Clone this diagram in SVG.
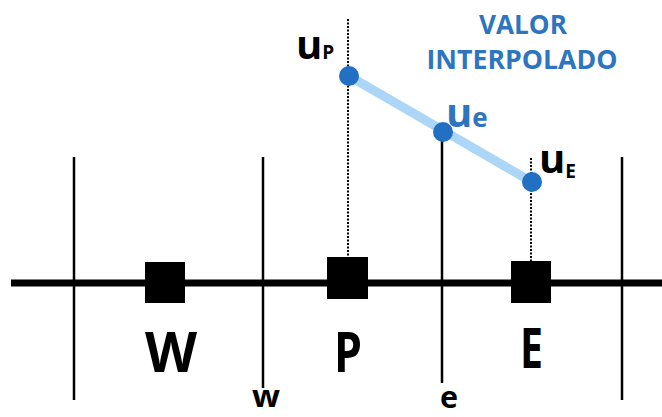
<svg xmlns="http://www.w3.org/2000/svg" width="662" height="417" viewBox="0 0 662 417">
<style>
.big{font-family:"Open Sans","Liberation Sans",sans-serif;font-weight:700;fill:#000}
.lbl{font-family:"Open Sans","Liberation Sans",sans-serif;font-weight:700}
.blue{fill:#2e75c0}
.face{stroke:#000;stroke-width:2.5;fill:none}
.dot{stroke:#000;stroke-width:2;stroke-dasharray:2 1.5;fill:none}
.pt{fill:#2170c4}
.node{fill:#000}
</style>
<rect width="662" height="417" fill="#fff"/>
<g id="connectors">
<line x1="11" y1="283" x2="662" y2="283" stroke="#000" stroke-width="7"/>
<line class="face" x1="74" y1="157" x2="74" y2="400"/>
<line class="face" x1="263" y1="157" x2="263" y2="388"/>
<line class="face" x1="442" y1="132" x2="442" y2="383"/>
<line class="face" x1="622" y1="157" x2="622" y2="400"/>
<line class="dot" x1="348" y1="19" x2="348" y2="258"/>
<line class="dot" x1="531" y1="158" x2="531" y2="262"/>
<line x1="349" y1="76" x2="532" y2="182" stroke="#acd6f7" stroke-width="9"/>
</g>
<g id="node-W">
<rect class="node" x="145" y="262" width="40" height="41"/>
<text class="big" x="145" y="372" font-size="56" textLength="52" lengthAdjust="spacingAndGlyphs">W</text>
</g>
<g id="node-P">
<rect class="node" x="327" y="257" width="41" height="42"/>
<text class="big" x="334" y="372" font-size="56" textLength="28" lengthAdjust="spacingAndGlyphs">P</text>
</g>
<g id="node-E">
<rect class="node" x="511" y="261" width="40" height="42"/>
<text class="big" x="520" y="368" font-size="55" textLength="23" lengthAdjust="spacingAndGlyphs">E</text>
</g>
<g id="face-w">
<text class="lbl" x="252" y="407" font-size="30" textLength="28" lengthAdjust="spacingAndGlyphs">w</text>
</g>
<g id="face-e">
<text class="lbl" x="440" y="408" font-size="31" textLength="18" lengthAdjust="spacingAndGlyphs">e</text>
</g>
<g id="uP">
<circle class="pt" cx="349" cy="76" r="10"/>
<text class="lbl" x="296" y="59" font-size="40">u<tspan font-size="19">P</tspan></text>
</g>
<g id="ue">
<circle class="pt" cx="443" cy="132" r="10"/>
<text class="lbl blue" x="446" y="127" font-size="40">u<tspan font-size="26">e</tspan></text>
</g>
<g id="uE">
<circle class="pt" cx="532" cy="182" r="10"/>
<text class="lbl" x="539" y="173" font-size="40">u<tspan font-size="19" dy="5">E</tspan></text>
</g>
<g id="label-valor">
<text class="lbl blue" x="523" y="34" font-size="26" text-anchor="middle" textLength="88" lengthAdjust="spacingAndGlyphs">VALOR</text>
<text class="lbl blue" x="522" y="69" font-size="26" text-anchor="middle" textLength="191" lengthAdjust="spacingAndGlyphs">INTERPOLADO</text>
</g>
</svg>
